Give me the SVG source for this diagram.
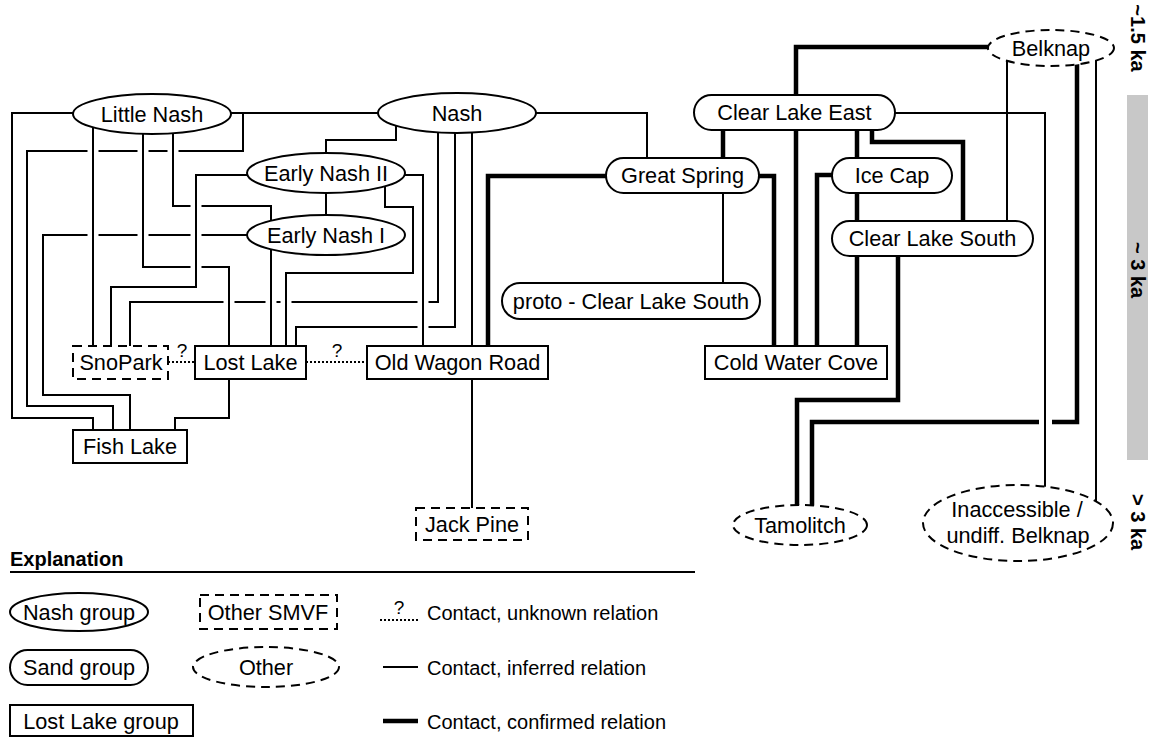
<svg xmlns="http://www.w3.org/2000/svg" width="1152" height="737" viewBox="0 0 1152 737">
  <style>
    .n { fill: #fff; stroke: #000; stroke-width: 2; }
    .d { fill: #fff; stroke: #000; stroke-width: 2; stroke-dasharray: 9 6; }
    .t { font-family: "Liberation Sans", Arial, sans-serif; font-size: 21.7px; text-anchor: middle; fill: #000; }
    .lt { font-family: "Liberation Sans", Arial, sans-serif; font-size: 20px; fill: #000; }
    .ax { font-family: "Liberation Sans", Arial, sans-serif; font-size: 20px; font-weight: bold; text-anchor: middle; fill: #000; }
    .q { font-family: "Liberation Sans", Arial, sans-serif; font-size: 19px; text-anchor: middle; fill: #000; }
    .thin { fill: none; stroke: #000; stroke-width: 2; }
    .thick { fill: none; stroke: #000; stroke-width: 4.5; }
    .dot { fill: none; stroke: #000; stroke-width: 2; stroke-dasharray: 2 2; }
  </style>

  <!-- connectors: drawn first, nodes are filled white on top -->
  <g id="connectors">
    <!-- inferred relations (thin) -->
    <path class="thin" d="M231,113 H378"/>
    <path class="thin" d="M243,113 V151 H178.5 M167.5,151 H148.5 M137.5,151 H98.5 M87.5,151 H27 V406 H113 V430"/>
    <path class="thin" d="M73,113 H12 V418 H93 V430"/>
    <path class="thin" d="M93,120 V346"/>
    <path class="thin" d="M143,120 V267 H190.5 M201.5,267 H229 V346"/>
    <path class="thin" d="M173,120 V206 H190.5 M201.5,206 H271 V235"/>
    <path class="thin" d="M271,235 V346"/>
    <path class="thin" d="M247,175 H196 V287 H111 V346"/>
    <path class="thin" d="M247,235 H201.5 M190.5,235 H148.5 M137.5,235 H98.5 M87.5,235 H43 V395 H130 V430"/>
    <path class="thin" d="M438,113 V302 H428.5 M417.5,302 H291.5 M280.5,302 H276.5 M265.5,302 H234.5 M223.5,302 H130 V346"/>
    <path class="thin" d="M455,113 V327 H428.5 M417.5,327 H296 V346"/>
    <path class="thin" d="M472,113 V346"/>
    <path class="thin" d="M385,173 V207 H413 V273 H286 V346"/>
    <path class="thin" d="M405,175 H423 V346"/>
    <path class="thin" d="M326,173 V235"/>
    <path class="thin" d="M396,113 V140 H326 V173"/>
    <path class="thin" d="M536,113 H647 V158"/>
    <path class="thin" d="M723,176 V283"/>
    <path class="thin" d="M472,379 V524"/>
    <path class="thin" d="M229,379 V418 H175 V430"/>
    <path class="thin" d="M895,113 H1045 V487"/>
    <path class="thin" d="M1096,48 V501"/>
    <path class="thin" d="M1007,48 V221"/>

    <!-- confirmed relations (thick) -->
    <path class="thick" d="M606,176 H488 V346"/>
    <path class="thick" d="M723,113 V158"/>
    <path class="thick" d="M759,176 H774 V346"/>
    <path class="thick" d="M988,47 H796 V113"/>
    <path class="thick" d="M796,113 V346"/>
    <path class="thick" d="M832,175 H817 V346"/>
    <path class="thick" d="M857,113 V175"/>
    <path class="thick" d="M857,175 V238"/>
    <path class="thick" d="M857,238 V346"/>
    <path class="thick" d="M872,113 V142 H963 V238"/>
    <path class="thick" d="M898,238 V400 H797 V525"/>
    <path class="thick" d="M1077,48 V422 H1052 M1039,422 H812 V525"/>

    <!-- unknown relations (dotted) -->
    <path class="dot" d="M168,362 H195"/>
    <text class="q" x="182" y="357">?</text>
    <path class="dot" d="M306,362 H367"/>
    <text class="q" x="337" y="357">?</text>
  </g>

  <!-- Nash group (ellipses) -->
  <g id="little-nash"><ellipse class="n" cx="152" cy="114" rx="79" ry="20"/><text class="t" x="152" y="122">Little Nash</text></g>
  <g id="nash"><ellipse class="n" cx="457" cy="113" rx="79" ry="20"/><text class="t" x="457" y="121">Nash</text></g>
  <g id="early-nash-ii"><ellipse class="n" cx="326" cy="173" rx="79" ry="20"/><text class="t" x="326" y="181">Early Nash II</text></g>
  <g id="early-nash-i"><ellipse class="n" cx="326" cy="235" rx="79" ry="20"/><text class="t" x="326" y="243">Early Nash I</text></g>

  <!-- Lost Lake group (rectangles) -->
  <g id="lost-lake"><rect class="n" x="195" y="346" width="111" height="33"/><text class="t" x="250.5" y="370">Lost Lake</text></g>
  <g id="old-wagon-road"><rect class="n" x="367" y="346" width="181" height="33"/><text class="t" x="457.5" y="370">Old Wagon Road</text></g>
  <g id="fish-lake"><rect class="n" x="73" y="430" width="114" height="33"/><text class="t" x="130" y="454">Fish Lake</text></g>
  <g id="cold-water-cove"><rect class="n" x="705" y="346" width="182" height="33"/><text class="t" x="796" y="370">Cold Water Cove</text></g>

  <!-- other SMVF (dashed rectangles) -->
  <g id="snopark"><rect class="d" x="73" y="346" width="95" height="33"/><text class="t" x="121" y="370">SnoPark</text></g>
  <g id="jack-pine"><rect class="d" x="416" y="508" width="112" height="32"/><text class="t" x="472" y="532">Jack Pine</text></g>

  <!-- Sand group (rounded) -->
  <g id="great-spring"><rect class="n" x="606" y="158" width="153" height="35" rx="17.5"/><text class="t" x="682.5" y="183">Great Spring</text></g>
  <g id="clear-lake-east"><rect class="n" x="694" y="95" width="201" height="35" rx="17.5"/><text class="t" x="794.5" y="120">Clear Lake East</text></g>
  <g id="ice-cap"><rect class="n" x="832" y="158" width="120" height="35" rx="17.5"/><text class="t" x="892" y="183">Ice Cap</text></g>
  <g id="clear-lake-south"><rect class="n" x="832" y="221" width="201" height="35" rx="17.5"/><text class="t" x="932.5" y="246">Clear Lake South</text></g>
  <g id="proto-clear-lake-south"><rect class="n" x="502" y="283" width="258" height="36" rx="18"/><text class="t" x="631" y="309">proto - Clear Lake South</text></g>

  <!-- other units (dashed ellipses) -->
  <g id="belknap"><ellipse class="d" cx="1051" cy="48" rx="63" ry="18"/><text class="t" x="1051" y="56">Belknap</text></g>
  <g id="tamolitch"><ellipse class="d" cx="800" cy="525" rx="67" ry="20"/><text class="t" x="800" y="533">Tamolitch</text></g>
  <g id="inaccessible"><ellipse class="d" cx="1018" cy="523" rx="95" ry="38"/><text class="t" x="1017" y="517">Inaccessible /</text><text class="t" x="1018" y="543">undiff. Belknap</text></g>

  <!-- age axis -->
  <g id="age-axis">
    <rect x="1127" y="95" width="21" height="365" fill="#c8c8c8"/>
    <text class="ax" transform="translate(1131,38) rotate(90)">~1.5 ka</text>
    <text class="ax" transform="translate(1131,270) rotate(90)">~ 3 ka</text>
    <text class="ax" transform="translate(1131,522) rotate(90)">&gt; 3 ka</text>
  </g>

  <!-- explanation -->
  <g id="legend">
    <text class="lt" x="10" y="566" font-weight="bold">Explanation</text>
    <path d="M10,572 H695" stroke="#000" stroke-width="2"/>
    <ellipse class="n" cx="79" cy="612" rx="69" ry="19"/>
    <text class="t" x="79" y="620" font-size="20">Nash group</text>
    <rect class="d" x="200" y="595" width="137" height="34"/>
    <text class="t" x="268" y="620" font-size="20">Other SMVF</text>
    <path class="dot" d="M380,620 H418"/>
    <text class="q" x="399" y="614" font-size="16">?</text>
    <text class="lt" x="427" y="620">Contact, unknown relation</text>

    <rect class="n" x="10" y="650" width="138" height="35" rx="17.5"/>
    <text class="t" x="79" y="675" font-size="20">Sand group</text>
    <ellipse class="d" cx="266" cy="667" rx="73" ry="20"/>
    <text class="t" x="266" y="675" font-size="20">Other</text>
    <path class="thin" d="M383,667 H418"/>
    <text class="lt" x="427" y="675">Contact, inferred relation</text>

    <rect class="n" x="10" y="705" width="183" height="31"/>
    <text class="t" x="101" y="729" font-size="20">Lost Lake group</text>
    <path class="thick" d="M383,721 H418"/>
    <text class="lt" x="427" y="729">Contact, confirmed relation</text>
  </g>
</svg>
